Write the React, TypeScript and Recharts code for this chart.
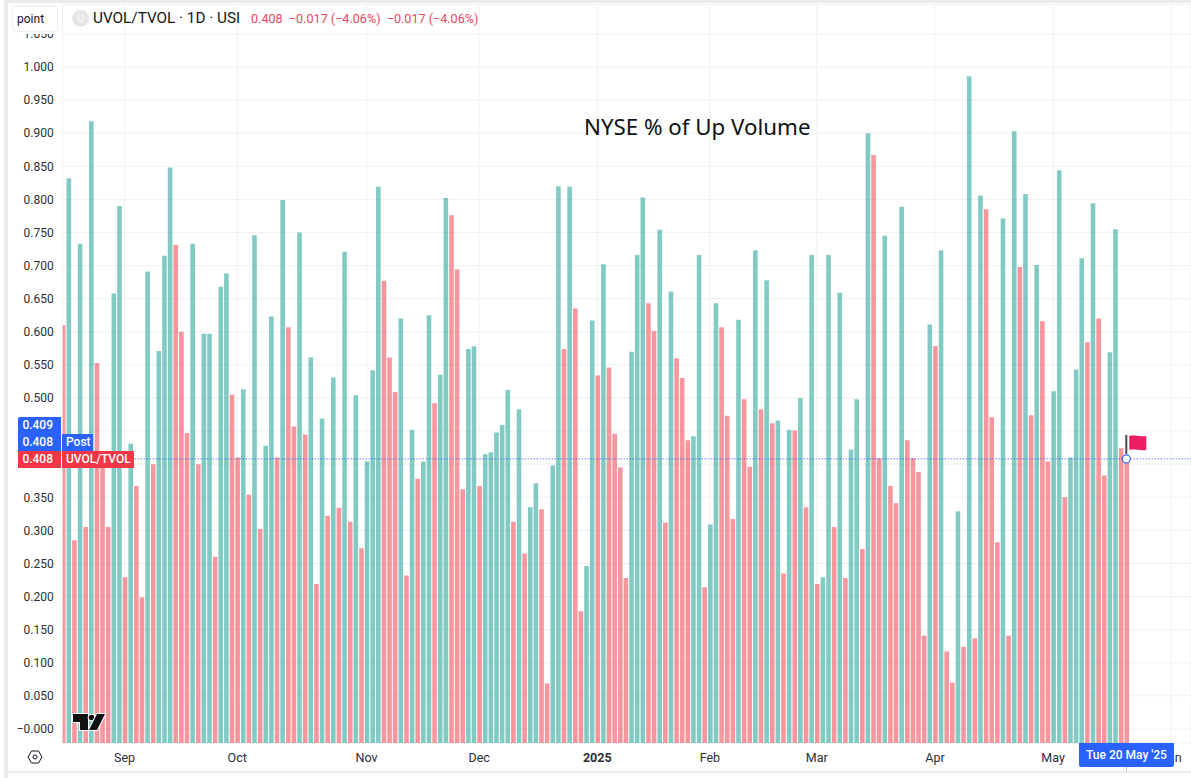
import React from "react";
import { ComposedChart, Bar, Cell, XAxis, YAxis, CartesianGrid, ReferenceLine, ReferenceDot } from "recharts";

const values: number[] = [
  0.61, 0.832, 0.285, 0.733, 0.305, 0.918, 0.553, 0.4, 0.305, 0.658,
  0.79, 0.229, 0.431, 0.367, 0.199, 0.691, 0.4, 0.571, 0.715, 0.848,
  0.731, 0.6, 0.447, 0.733, 0.4, 0.597, 0.597, 0.26, 0.668, 0.688,
  0.505, 0.41, 0.513, 0.354, 0.746, 0.302, 0.428, 0.623, 0.41, 0.799,
  0.607, 0.457, 0.75, 0.445, 0.561, 0.219, 0.469, 0.322, 0.531, 0.334,
  0.721, 0.313, 0.504, 0.273, 0.404, 0.542, 0.819, 0.677, 0.561, 0.509,
  0.62, 0.232, 0.452, 0.378, 0.404, 0.625, 0.492, 0.535, 0.802, 0.776,
  0.694, 0.362, 0.574, 0.578, 0.367, 0.415, 0.418, 0.448, 0.459, 0.512,
  0.313, 0.483, 0.265, 0.335, 0.371, 0.332, 0.069, 0.398, 0.82, 0.574,
  0.819, 0.635, 0.178, 0.246, 0.617, 0.534, 0.702, 0.546, 0.446, 0.395,
  0.228, 0.57, 0.716, 0.803, 0.643, 0.601, 0.754, 0.312, 0.661, 0.56,
  0.53, 0.436, 0.442, 0.716, 0.214, 0.309, 0.643, 0.607, 0.473, 0.317,
  0.618, 0.498, 0.396, 0.723, 0.483, 0.678, 0.462, 0.466, 0.235, 0.452,
  0.451, 0.5, 0.335, 0.716, 0.219, 0.229, 0.716, 0.305, 0.659, 0.228,
  0.422, 0.498, 0.272, 0.9, 0.867, 0.409, 0.745, 0.367, 0.341, 0.789,
  0.436, 0.409, 0.388, 0.141, 0.611, 0.578, 0.723, 0.117, 0.07, 0.329,
  0.124, 0.986, 0.137, 0.806, 0.785, 0.471, 0.282, 0.771, 0.141, 0.903,
  0.698, 0.808, 0.474, 0.701, 0.616, 0.404, 0.51, 0.844, 0.35, 0.41,
  0.543, 0.711, 0.584, 0.794, 0.62, 0.383, 0.569, 0.755, 0.424, 0.408,
];

const monthTickIndex: number[] = [11, 31, 54, 74, 95, 115, 134, 155, 176, 197];
const monthLabels: string[] = ["Sep", "Oct", "Nov", "Dec", "2025", "Feb", "Mar", "Apr", "May", "Jun"];
const yTicks: number[] = [0, 0.05, 0.1, 0.15, 0.2, 0.25, 0.3, 0.35, 0.4, 0.45, 0.5, 0.55, 0.6, 0.65, 0.7, 0.75, 0.8, 0.85, 0.9, 0.95, 1, 1.05];

const FONT = "Roboto, 'Noto Sans', sans-serif";
const LAST = 0.408;
const Y_MIN = -0.0212;
const Y_MAX = 1.0944;

const rows = values.map((v, i) => ({ i, range: [Y_MIN - 0.02, v] as [number, number] }));
const isUp = (i: number) => i > 0 && values[i] >= values[i - 1];

const XTick = (props: any) => {
  const { x, y, payload } = props;
  const label = monthLabels[monthTickIndex.indexOf(payload.value)];
  return (
    <text x={x} y={y + 11} textAnchor="middle" fontFamily={FONT} fontSize={12.5} fontWeight={label === "2025" ? 700 : 400} fill="#2a2e39">
      {label}
    </text>
  );
};

const FlagMark = (props: any) => {
  const { cx, cy } = props;
  return (
    <g>
      <rect x={cx - 1} y={cy - 24} width={2} height={19} fill="#4a4a4a" />
      <path d={`M${cx + 3} ${cy - 23} C${cx + 8} ${cy - 24} ${cx + 14} ${cy - 22} ${cx + 20} ${cy - 23} L${cx + 20} ${cy - 9} C${cx + 14} ${cy - 8} ${cx + 8} ${cy - 10} ${cx + 3} ${cy - 9} Z`} fill="#e91e63" />
      <circle cx={cx} cy={cy} r={4} fill="#fff" stroke="#2962ff" strokeWidth={1.2} />
    </g>
  );
};

const box = (left: number, top: number, width: number, height: number, bg: string, extra: React.CSSProperties = {}): React.CSSProperties => ({
  position: "absolute", left, top, width, height, background: bg, color: "#fff", fontFamily: FONT, fontSize: 12, fontWeight: 500,
  lineHeight: `${height}px`, whiteSpace: "nowrap", boxSizing: "border-box", ...extra,
});

export default function App() {
  return (
    <div style={{ position: "fixed", left: 0, top: 0, width: 1191, height: 778, background: "#fff", overflow: "hidden" }}>
      <ComposedChart width={1191} height={778} data={rows} margin={{ top: 4.5, right: 0, bottom: 0, left: 0 }}>
        <CartesianGrid stroke="#f0f1f3" strokeWidth={1} />
        <XAxis dataKey="i" type="number" domain={[0, 200.5]} ticks={monthTickIndex} interval={0} allowDataOverflow axisLine={false} tickLine={false} height={35} tick={<XTick />} />
        <YAxis type="number" width={62.7} domain={[Y_MIN, Y_MAX]} ticks={yTicks} interval={0} allowDataOverflow axisLine={false} tickLine={false} tickMargin={3}
          tick={{ fontFamily: FONT, fontSize: 12, fill: "#2a2e39" }}
          tickFormatter={(v: number) => (v === 0 ? "\u22120.000" : v.toFixed(3))} />
        <Bar dataKey="range" barSize={4.6} isAnimationActive={false}>
          {rows.map((r) => (
            <Cell key={r.i} fill={isUp(r.i) ? "#26a69a" : "#f23645"} fillOpacity={isUp(r.i) ? 0.58 : 0.52} />
          ))}
        </Bar>
        <ReferenceLine y={LAST} stroke="#1c4fd8" strokeDasharray="1 2" strokeWidth={1} ifOverflow="visible" />
        <ReferenceDot x={189} y={LAST} r={4} shape={<FlagMark />} ifOverflow="visible" />
      </ComposedChart>

      {/* frame */}
      <div style={{ position: "absolute", left: 4, top: 0, width: 4, height: 778, background: "#ebebeb" }} />
      <div style={{ position: "absolute", left: 4, top: 0, width: 1187, height: 3, background: "#ebebeb" }} />
      <div style={{ position: "absolute", left: 8, top: 771, width: 1183, height: 2, background: "#ebebeb" }} />

      {/* header */}
      <div style={{ position: "absolute", left: 8, top: 3, width: 54, height: 31, background: "#fff" }} />
      <div style={{ position: "absolute", left: 12, top: 6, width: 46, height: 26, border: "1px solid #eceef2", borderRadius: 4, boxSizing: "border-box", fontFamily: FONT, fontSize: 12, lineHeight: "24px", paddingLeft: 4, color: "#131722", background: "#fff" }}>point</div>
      <div style={{ position: "absolute", left: 72, top: 10, width: 17, height: 17, borderRadius: "50%", background: "#e6e6e6", color: "#fff", fontFamily: FONT, fontSize: 10, lineHeight: "17px", textAlign: "center" }}>U</div>
      <div style={{ position: "absolute", left: 93, top: 9, fontFamily: FONT, fontSize: 15.3, lineHeight: "19px", color: "#131722", whiteSpace: "nowrap" }}>UVOL/TVOL · 1D · USI</div>
      <div style={{ position: "absolute", left: 251, top: 10, fontFamily: FONT, fontSize: 12.6, lineHeight: "17px", color: "#e8475f", whiteSpace: "pre" }}>0.408  −0.017 (−4.06%)  −0.017 (−4.06%)</div>

      {/* annotation */}
      <div style={{ position: "absolute", left: 584, top: 112, fontFamily: "'Noto Sans', sans-serif", fontSize: 22.3, lineHeight: "30px", color: "#111", whiteSpace: "nowrap" }}>NYSE % of Up Volume</div>

      {/* price labels */}
      <div style={box(18, 417, 43, 34, "#2962ff", { borderRadius: "2px 0 0 0" })} />
      <div style={{ ...box(18, 417, 43, 17, "transparent"), textAlign: "right", paddingRight: 8 }}>0.409</div>
      <div style={{ ...box(18, 434, 43, 17, "transparent"), textAlign: "right", paddingRight: 8 }}>0.408</div>
      <div style={box(62, 434, 31, 17, "#2962ff", { paddingLeft: 4 })}>Post</div>
      <div style={{ ...box(18, 451, 43, 17, "#f23645"), textAlign: "right", paddingRight: 8 }}>0.408</div>
      <div style={box(62, 451, 72, 17, "#f23645", { paddingLeft: 4 })}>UVOL/TVOL</div>

      {/* date label */}
      <div style={{ ...box(1079, 743, 95, 24, "#2962ff", { borderRadius: "0 0 2px 2px" }), textAlign: "center" }}>Tue 20 May '25</div>
      <div style={{ position: "absolute", left: 1126, top: 767, width: 1, height: 5, background: "#c8c8c8" }} />

      {/* settings icon */}
      <svg style={{ position: "absolute", left: 27, top: 749 }} width={16} height={16} viewBox="0 0 16 16">
        <path d="M1 8 L4.5 2 H11.5 L15 8 L11.5 14 H4.5 Z" fill="none" stroke="#131722" strokeWidth={1} />
        <circle cx={8} cy={8} r={2} fill="none" stroke="#131722" strokeWidth={1} />
      </svg>

      {/* watermark */}
      <svg style={{ position: "absolute", left: 71, top: 712 }} width={36} height={20} viewBox="0 0 36 20">
        <g stroke="#fff" strokeWidth={2} paintOrder="stroke" fill="#111">
          <path d="M2 2 H17 V18 H9 V10 H2 Z" />
          <circle cx={20.5} cy={5.5} r={2.8} />
          <path d="M26 2 H34 L26 18 H18 Z" />
        </g>
      </svg>
    </div>
  );
}
